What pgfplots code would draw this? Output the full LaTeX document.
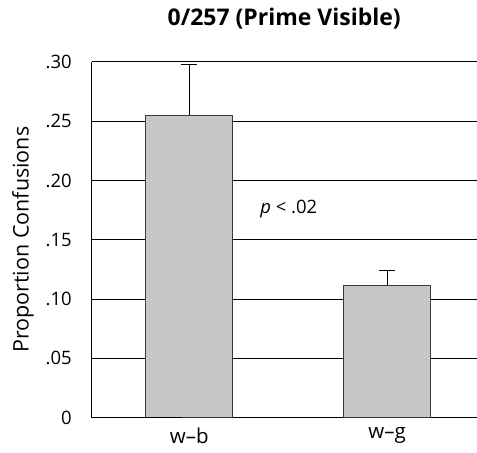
\documentclass[border=0pt]{standalone}
\usepackage{fontspec}
\setmainfont{Open Sans}
\usepackage{pgfplots}
\pgfplotsset{compat=1.18}
\definecolor{barfill}{HTML}{C6C7C6}
\definecolor{bardraw}{HTML}{3A3A3A}
\begin{document}
\begin{tikzpicture}
\begin{axis}[
  scale only axis,
  width=385bp, height=356bp,
  xmin=-0.4924, xmax=1.452,
  ymin=0, ymax=0.30,
  axis x line*=bottom, axis y line*=left,
  axis line style={black, line width=0.9bp, -},
  xtick={0,1}, xticklabels={w–b, w–g},
  ytick={0,0.05,0.1,0.15,0.2,0.25,0.3},
  yticklabels={0,.05,.10,.15,.20,.25,.30},
  tick style={draw=none},
  ymajorgrids,
  grid style={black, line width=0.9bp},
  yticklabel style={inner sep=0pt, anchor=east, xshift=-20bp, font=\fontsize{18.5bp}{22bp}\selectfont},
  xticklabel style={inner sep=0pt, anchor=north, yshift=-10bp, font=\fontsize{20.5bp}{24bp}\selectfont},
  ylabel={Proportion Confusions},
  ylabel style={at={([xshift=-69bp]axis description cs:0,0.5)}, anchor=center, rotate=0, font=\fontsize{21.5bp}{25bp}\selectfont},
  title={0/257 (Prime Visible)},
  title style={at={(axis description cs:0.50,1)}, anchor=base, yshift=30bp, inner sep=0pt, font=\fontsize{23bp}{27bp}\selectfont\bfseries},
  clip=false,
]
\addplot[ybar, bar width=87bp, fill=barfill, draw=bardraw, line width=0.9bp,
  error bars/.cd, y dir=plus, y explicit,
  error bar style={black, line width=0.9bp},
  error mark options={black, line width=0.9bp, mark size=8bp, rotate=90}]
  coordinates {(0,0.2550) +- (0,0.0430) (1,0.1115) +- (0,0.0125)};
\node[font=\fontsize{18.5bp}{22bp}\selectfont, anchor=center] at (axis cs:0.503,0.176) {\textit{p} < .02};
\draw[black, line width=0.9bp] (axis cs:-0.4924,0) -- ++(-7bp,0);
\coordinate (bl) at (rel axis cs:0,0);
\end{axis}
\path (bl) ++(-92bp,-35bp) rectangle ++(477bp,453bp);
\end{tikzpicture}
\end{document}
